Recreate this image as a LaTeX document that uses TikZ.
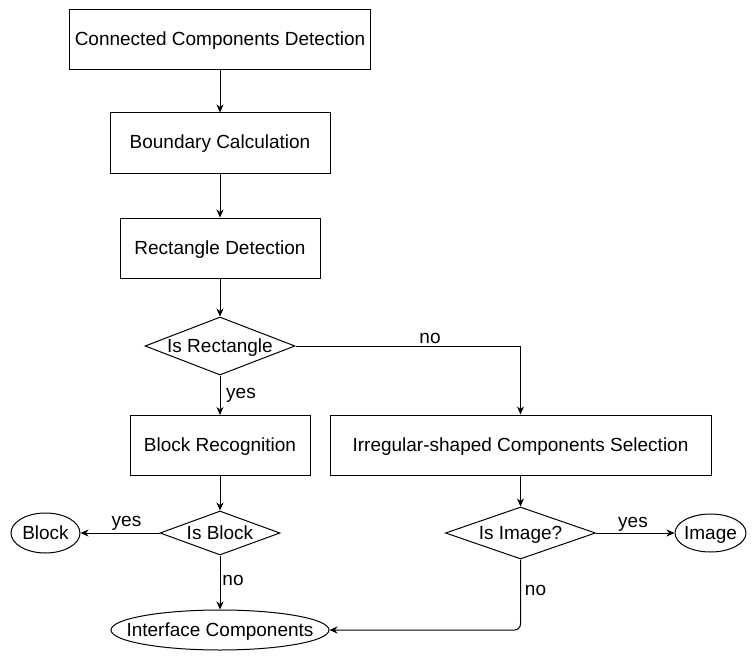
\documentclass[tikz,border=0pt]{standalone}
\usepackage{fontspec}
\setmainfont{Liberation Sans}
\usetikzlibrary{shapes.geometric,arrows.meta}
\begin{document}
\begin{tikzpicture}[x=1bp,y=-1bp,
  every node/.style={font=\fontsize{19bp}{23bp}\selectfont, inner sep=0pt, text height=14bp, text depth=2bp},
  box/.style={draw, rectangle, line width=1bp},
  decision/.style={draw, diamond, line width=1bp},
  terminal/.style={draw, ellipse, line width=1bp},
  flow/.style={line width=1bp, -{Stealth[length=8bp,width=7bp,inset=2.5bp]}},
  lbl/.style={anchor=base, text height=, text depth=}]
\useasboundingbox (0,0) rectangle (756,661);

% process boxes
\node[box, minimum width=300bp, minimum height=60bp] (ccd) at (220,40) {Connected Components Detection};
\node[box, minimum width=220bp, minimum height=60bp] (bc) at (220,143) {Boundary Calculation};
\node[box, minimum width=200bp, minimum height=60bp] (rd) at (220,248) {Rectangle Detection};
\node[box, minimum width=180bp, minimum height=60bp] (br) at (220,445.5) {Block Recognition};
\node[box, minimum width=381bp, minimum height=60bp] (ics) at (520.5,445) {Irregular-shaped Components Selection};

% decisions
\node[decision, minimum width=150bp, minimum height=58bp] (isrect) at (220,346) {\makebox[0pt]{Is Rectangle}};
\node[decision, minimum width=120bp, minimum height=44bp] (isblock) at (220,533) {\makebox[0pt]{Is Block}};
\node[decision, minimum width=150bp, minimum height=52bp] (isimg) at (520.5,533) {\makebox[0pt]{Is Image?}};

% results
\node[terminal, minimum width=69bp, minimum height=40bp] (block) at (45.5,533) {\makebox[0pt]{Block}};
\node[terminal, minimum width=71bp, minimum height=38bp] (image) at (710.5,533) {\makebox[0pt]{Image}};
\node[terminal, minimum width=218bp, minimum height=40bp] (iface) at (220,630) {\makebox[0pt]{Interface Components}};

% connectors
\draw[flow] (ccd) -- (bc);
\draw[flow] (bc) -- (rd);
\draw[flow] (rd) -- (isrect);
\draw[flow] (isrect) -- (br);
\draw[flow] (isrect.east) -| (ics.north);
\draw[flow] (br.south) -- (isblock.north);
\draw[flow] (isblock.west) -- (block.east);
\draw[flow] (isblock.south) -- (iface.north);
\draw[flow] (ics.south) -- (isimg.north);
\draw[flow] (isimg.east) -- (image.west);
\draw[flow, rounded corners=6bp] (isimg.south) |- (iface.east);

% branch labels
\node[lbl] (lno1) at (430,343) {no};
\node[lbl] (lyes1) at (241,398) {yes};
\node[lbl] (lyes2) at (126.5,526) {yes};
\node[lbl] (lno2) at (233,585) {no};
\node[lbl] (lyes3) at (633,527) {yes};
\node[lbl] (lno3) at (535.5,595) {no};
\end{tikzpicture}
\end{document}
